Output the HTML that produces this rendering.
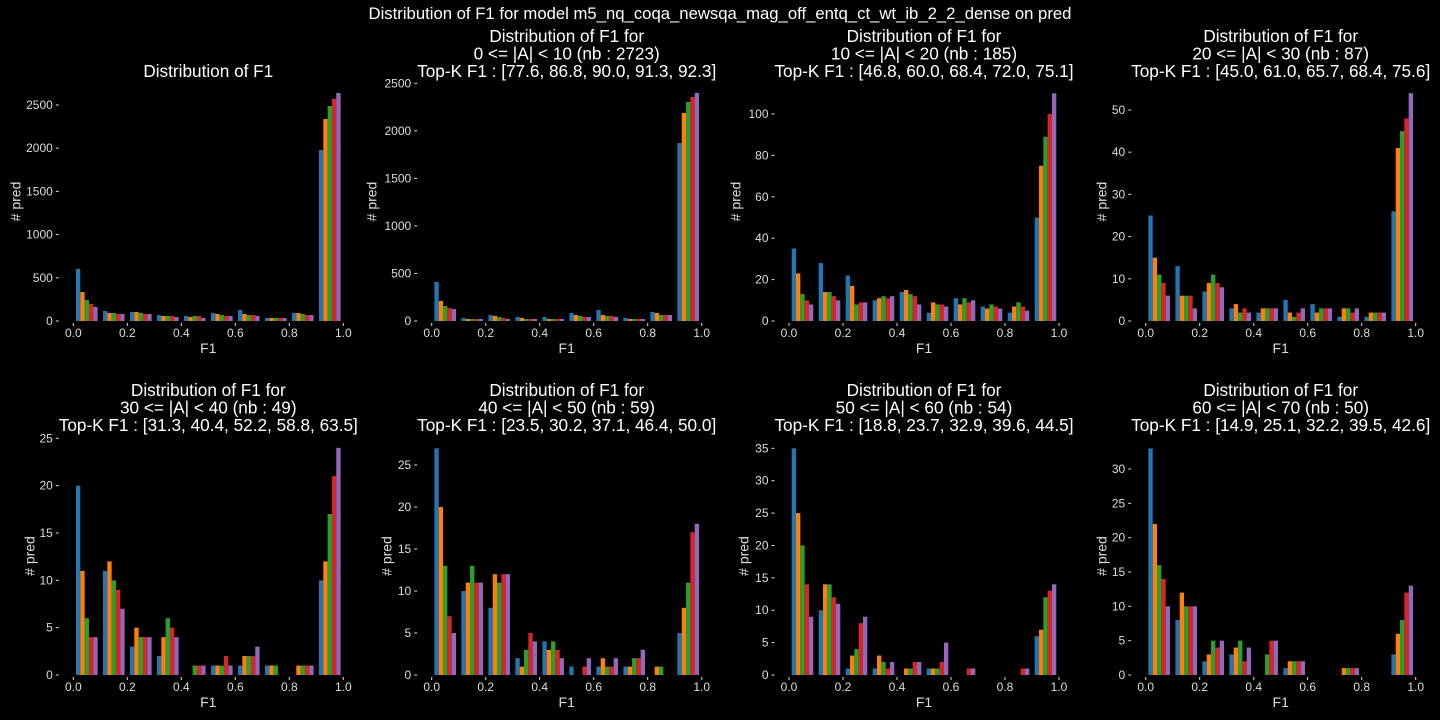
<!DOCTYPE html>
<html><head><meta charset="utf-8">
<style>
html,body{margin:0;padding:0;background:#000;width:1440px;height:720px;overflow:hidden}
svg{display:block;font-family:"Liberation Sans","DejaVu Sans",sans-serif}
</style></head>
<body>
<svg id="chart" width="1440" height="720" viewBox="0 0 1440 720" xmlns="http://www.w3.org/2000/svg">
<rect width="1440" height="720" fill="#000"/>
<text x="720" y="19" fill="#fff" font-size="16.7" text-anchor="middle">Distribution of F1 for model m5_nq_coqa_newsqa_mag_off_entq_ct_wt_ib_2_2_dense on pred</text>
</svg>
<script>
const seriesColors = ["#1f77b4","#ff7f0e","#2ca02c","#d62728","#9467bd"];
const binEdges = [0,0.1,0.2,0.3,0.4,0.5,0.6,0.7,0.8,0.9];
const xTicks = ["0.0","0.2","0.4","0.6","0.8","1.0"];
const titles = [
 ["Distribution of F1"],
 ["Distribution of F1 for","0 <= |A| < 10 (nb : 2723)","Top-K F1 : [77.6, 86.8, 90.0, 91.3, 92.3]"],
 ["Distribution of F1 for","10 <= |A| < 20 (nb : 185)","Top-K F1 : [46.8, 60.0, 68.4, 72.0, 75.1]"],
 ["Distribution of F1 for","20 <= |A| < 30 (nb : 87)","Top-K F1 : [45.0, 61.0, 65.7, 68.4, 75.6]"],
 ["Distribution of F1 for","30 <= |A| < 40 (nb : 49)","Top-K F1 : [31.3, 40.4, 52.2, 58.8, 63.5]"],
 ["Distribution of F1 for","40 <= |A| < 50 (nb : 59)","Top-K F1 : [23.5, 30.2, 37.1, 46.4, 50.0]"],
 ["Distribution of F1 for","50 <= |A| < 60 (nb : 54)","Top-K F1 : [18.8, 23.7, 32.9, 39.6, 44.5]"],
 ["Distribution of F1 for","60 <= |A| < 70 (nb : 50)","Top-K F1 : [14.9, 25.1, 32.2, 39.5, 42.6]"]
];
// values[plot][bin] = [k1..k5]
const counts1 = [[602,336,243,197,162],[116,93,93,81,81],[104,104,93,81,81],[69,58,58,58,46],[58,46,58,58,35],[93,81,69,58,58],[127,81,69,69,58],[35,35,35,35,35],[93,93,81,69,69],[1979,2338,2488,2570,2639]];
const counts2 = [[410,210,158,137,126],[32,21,21,21,21],[63,53,42,32,21],[42,32,21,21,21],[42,21,21,21,21],[84,63,53,42,42],[116,63,53,53,42],[32,21,21,21,21],[95,84,63,63,63],[1872,2188,2304,2356,2398]];
const counts3 = [[35,23,13,10,8],[28,14,14,12,10],[22,17,8,9,9],[10,11,12,11,12],[14,15,13,12,8],[4,9,8,8,7],[11,8,11,9,10],[7,6,8,7,6],[4,7,9,7,5],[50,75,89,100,110]];
const counts4 = [[25,15,11,9,6],[13,6,6,6,3],[7,9,11,9,8],[3,4,2,3,2],[2,3,3,3,3],[5,2,1,2,3],[4,2,3,3,3],[1,3,3,2,3],[1,2,2,2,2],[26,41,45,48,54]];
const counts5 = [[20,11,6,4,4],[11,12,10,9,7],[3,5,4,4,4],[2,4,6,5,4],[0,0,1,1,1],[1,1,1,2,1],[1,2,2,2,3],[1,1,1,0,0],[0,1,1,1,1],[10,12,17,21,24]];
const counts6 = [[27,20,13,7,5],[10,11,13,11,11],[8,12,11,12,12],[2,1,3,5,4],[4,3,4,3,2],[1,0,0,1,2],[1,2,1,1,2],[1,1,2,2,3],[0,1,1,0,0],[5,8,11,17,18]];
const counts7 = [[35,25,20,14,9],[10,14,14,12,11],[1,3,4,8,9],[1,3,2,1,2],[0,1,1,2,2],[1,1,1,2,5],[0,0,0,1,1],[0,0,0,0,0],[0,0,0,1,1],[6,7,12,13,14]];
const counts8 = [[33,22,16,14,10],[8,12,10,10,10],[2,3,5,4,5],[3,4,5,2,4],[0,0,3,5,5],[1,2,2,2,2],[0,0,0,0,0],[0,1,1,1,1],[0,0,0,0,0],[3,6,8,12,13]];
const allCounts = [counts1,counts2,counts3,counts4,counts5,counts6,counts7,counts8];
const yTicks1 = [0,500,1000,1500,2000,2500];
const yTicks2 = [0,500,1000,1500,2000,2500];
const yTicks3 = [0,20,40,60,80,100];
const yTicks4 = [0,10,20,30,40,50];
const yTicks5 = [0,5,10,15,20,25];
const yTicks6 = [0,5,10,15,20,25];
const yTicks7 = [0,5,10,15,20,25,30,35];
const yTicks8 = [0,5,10,15,20,25,30];
const allYTicks = [yTicks1,yTicks2,yTicks3,yTicks4,yTicks5,yTicks6,yTicks7,yTicks8];

// layout (pixel geometry)
const x0s = [73.3,431.7,789,1145.7,73.3,431.7,789,1145.7];
const xW = 270;
const y0s = [321,321,321,321,675,675,675,675];
const refPix = [105,83.3,114,110,438.3,465,448.3,469];
const ylabX = [17,373,737,1103,31,388,745,1103];

const svg = document.getElementById('chart');
const NS = "http://www.w3.org/2000/svg";
function mk(tag, attrs, parent){const e=document.createElementNS(NS,tag);for(const k in attrs)e.setAttribute(k,attrs[k]);(parent||svg).appendChild(e);return e;}

for(let p=0;p<8;p++){
  const g = mk('g',{});
  
  
  const ticks = allYTicks[p];
  const tmax = ticks[ticks.length-1];
  const y0 = y0s[p];
  const yScale = v => y0 - v*(y0-refPix[p])/tmax;
  const xScale = v => x0s[p] + v*xW;
  const axLeft = xScale(-0.05);
  const lines = titles[p];
  const bottomY = p<4 ? 77 : 431;
  const cx = xScale(0.5);
  lines.forEach((ln,i)=>{
    const t = mk('text',{x:cx,y:bottomY-(lines.length-1-i)*17.5,fill:'#fff','font-size':17.2,'text-anchor':'middle'},g);
    
    
    t.textContent = ln;
  });
  const counts = allCounts[p];
  const bw = 0.1*0.8/5;
  counts.forEach((bin,bi)=>{
    bin.forEach((v,si)=>{
      if(v<=0) return;
      const xa = xScale(binEdges[bi]+0.01+si*bw);
      const r = mk('rect',{x:xa,y:yScale(v),width:xScale(bw)-xScale(0),height:y0-yScale(v),fill:seriesColors[si]},g);
      
      
    });
  });
  ticks.forEach(tv=>{
    const y = yScale(tv);
    mk('line',{x1:axLeft-4,x2:axLeft-1,y1:y,y2:y,stroke:'#ddd','stroke-width':1},g);
    const t = mk('text',{x:axLeft-7,y:y+4,fill:'#ddd','font-size':12,'text-anchor':'end'},g);
    
    
    t.textContent = tv;
  });
  xTicks.forEach(lbl=>{
    const x = xScale(parseFloat(lbl));
    mk('line',{x1:x,x2:x,y1:y0+2,y2:y0+5,stroke:'#ddd','stroke-width':1},g);
    const t = mk('text',{x:x,y:y0+16,fill:'#ddd','font-size':12,'text-anchor':'middle'},g);
    
    
    t.textContent = lbl;
  });
  const xl = mk('text',{x:cx,y:y0+32,fill:'#ddd','font-size':14,'text-anchor':'middle'},g);
  
  
  xl.textContent = 'F1';
  const yc = (y0 + (p<4?82:437))/2;
  const yl = mk('text',{x:ylabX[p],y:yc,fill:'#ddd','font-size':14,'text-anchor':'middle',transform:`rotate(-90 ${ylabX[p]} ${yc})`,'dominant-baseline':'middle'},g);
  
  
  yl.textContent = '# pred';
}
</script>
</body></html>
